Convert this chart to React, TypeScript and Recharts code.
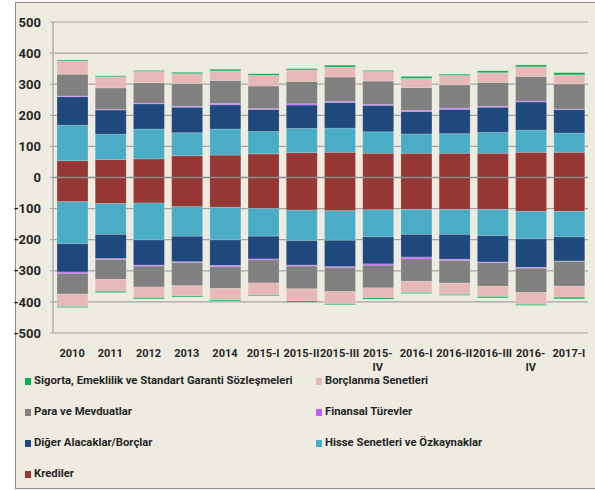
import { BarChart, Bar, XAxis, YAxis, CartesianGrid, ReferenceLine } from "recharts";

const categories = ["2010", "2011", "2012", "2013", "2014", "2015-I", "2015-II", "2015-III", "2015-IV", "2016-I", "2016-II", "2016-III", "2016-IV", "2017-I"];
const yTicks = [-500, -400, -300, -200, -100, 0, 100, 200, 300, 400, 500];

// varlıklar (pozitif)
const kredilerA = [54, 58, 60, 70, 72, 76, 80, 81, 78, 78, 78, 78, 81, 81];
const hisseA = [114, 81, 96, 74, 84, 72, 78, 78, 69, 62, 63, 67, 71, 62];
const digerA = [92, 78, 81, 82, 78, 71, 75, 82, 85, 72, 78, 81, 91, 76];
const finansalA = [2, 2, 2, 3, 4, 3, 4, 3, 3, 4, 4, 3, 3, 1];
const paraA = [70, 69, 66, 73, 74, 72, 72, 79, 75, 73, 75, 77, 79, 81];
const borclanmaA = [43, 36, 36, 32, 31, 35, 37, 32, 31, 30, 30, 31, 31, 29];
const sigortaA = [3, 3, 3, 4, 5, 5, 4, 6, 3, 6, 4, 6, 6, 7];

// yükümlülükler (negatif)
const kredilerL = [-78, -84, -82, -94, -96, -100, -105, -107, -104, -103, -103, -103, -109, -109];
const hisseL = [-135, -99, -119, -95, -105, -89, -98, -95, -87, -80, -80, -84, -88, -82];
const digerL = [-91, -78, -81, -82, -82, -73, -79, -85, -87, -73, -80, -85, -92, -78];
const finansalL = [-4, -3, -3, -3, -4, -3, -3, -3, -4, -6, -4, -2, -3, -1];
const paraL = [-67, -64, -67, -74, -70, -74, -73, -77, -73, -72, -73, -76, -78, -80];
const borclanmaL = [-40, -38, -34, -33, -37, -40, -39, -39, -32, -36, -36, -33, -38, -35];
const sigortaL = [-3, -4, -4, -3, -3, -2, -4, -3, -4, -3, -3, -4, -3, -5];

const series = [
  { key: "kr", name: "Krediler", color: "#953735", a: kredilerA, l: kredilerL },
  { key: "hs", name: "Hisse Senetleri ve Özkaynaklar", color: "#4BACC6", a: hisseA, l: hisseL },
  { key: "da", name: "Diğer Alacaklar/Borçlar", color: "#1F497D", a: digerA, l: digerL },
  { key: "ft", name: "Finansal Türevler", color: "#BF5FFF", a: finansalA, l: finansalL },
  { key: "pm", name: "Para ve Mevduatlar", color: "#808080", a: paraA, l: paraL },
  { key: "bs", name: "Borçlanma Senetleri", color: "#E6B9B8", a: borclanmaA, l: borclanmaL },
  { key: "sg", name: "Sigorta, Emeklilik ve Standart Garanti Sözleşmeleri", color: "#00B050", a: sigortaA, l: sigortaL },
];

// legend order as in the picture (two columns)
const legendRows = [
  ["sg", "bs"],
  ["pm", "ft"],
  ["da", "hs"],
  ["kr"],
];

const data = categories.map((c, i) => {
  const row: Record<string, string | number> = { name: c };
  series.forEach((s) => {
    row[s.key + "A"] = s.a[i];
    row[s.key + "L"] = s.l[i];
  });
  return row;
});

const FONT = "'Liberation Sans Narrow', 'Roboto', sans-serif";
const TEXT = "#262626";

const XTick = (props: any) => {
  const { x, y, payload } = props;
  const label: string = payload.value;
  const lines = label.endsWith("-IV") ? [label.slice(0, -2), "IV"] : [label];
  return (
    <text x={x} y={y + 22} textAnchor="middle" fontFamily={FONT} fontWeight="bold" fontSize={11} fill={TEXT}>
      {lines.map((l, i) => (
        <tspan key={i} x={x} dy={i === 0 ? 0 : 14}>
          {l}
        </tspan>
      ))}
    </text>
  );
};

export default function App() {
  return (
    <div style={{ position: "absolute", left: 0, top: 0, width: 595, height: 490, overflow: "hidden", background: "#fff" }}>
      <div
        style={{
          position: "absolute",
          left: 15,
          top: 2,
          width: 600,
          height: 485,
          background: "#EEECE1",
          borderTop: "1.5px solid #8c8c8c",
          borderLeft: "1.5px solid #8c8c8c",
          borderBottom: "1.5px solid #8c8c8c",
        }}
      />
      <div style={{ position: "absolute", left: 0, top: 0 }}>
        <BarChart
          width={595}
          height={380}
          data={data}
          stackOffset="sign"
          barSize={31}
          margin={{ top: 22, right: 7, left: 0, bottom: 0 }}
        >
          <CartesianGrid vertical={false} stroke="#a3a3a3" strokeWidth={1.2} />
          <XAxis
            dataKey="name"
            height={47}
            axisLine={false}
            tickLine={false}
            tickSize={0}
            interval={0}
            tick={<XTick />}
          />
          <YAxis
            width={53}
            domain={[-500, 500]}
            ticks={yTicks}
            interval={0}
            axisLine={{ stroke: "#a3a3a3", strokeWidth: 1.2 }}
            tickLine={{ stroke: "#a3a3a3" }}
            tickSize={3}
            tickMargin={9}
            tick={{ fontFamily: FONT, fontWeight: "bold", fontSize: 13, fill: TEXT }}
          />
          {series.map((s) => (
            <Bar
              key={s.key + "A"}
              dataKey={s.key + "A"}
              name={s.name}
              stackId="s"
              fill={s.color}
              stroke="#ffffff"
              strokeOpacity={0.3}
              strokeWidth={0.6}
              isAnimationActive={false}
            />
          ))}
          {series.map((s) => (
            <Bar
              key={s.key + "L"}
              dataKey={s.key + "L"}
              name={s.name}
              stackId="s"
              fill={s.color}
              stroke="#ffffff"
              strokeOpacity={0.3}
              strokeWidth={0.6}
              legendType="none"
              isAnimationActive={false}
            />
          ))}
          <ReferenceLine y={0} stroke="#8c8c8c" strokeWidth={1.5} />
        </BarChart>
      </div>
      {legendRows.map((row, r) =>
        row.map((k, c) => {
          const s = series.find((x) => x.key === k)!;
          return (
            <div
              key={k}
              style={{
                position: "absolute",
                left: c === 0 ? 25 : 316,
                top: 375 + r * 31,
                height: 12,
                lineHeight: "12px",
                display: "flex",
                alignItems: "center",
                fontFamily: FONT,
                fontWeight: "bold",
                fontSize: 11.3,
                color: TEXT,
                whiteSpace: "nowrap",
              }}
            >
              <span style={{ display: "inline-block", width: 6, height: 7, background: s.color, marginRight: 3 }} />
              {s.name}
            </div>
          );
        })
      )}
    </div>
  );
}
